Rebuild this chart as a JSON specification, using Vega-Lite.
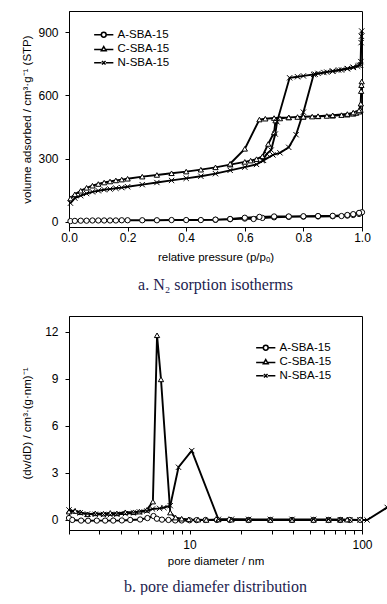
{
  "$schema": "https://vega.github.io/schema/vega-lite/v6.json",
  "background": "white",
  "padding": {"left": 21, "top": 10, "right": 0, "bottom": 0},
  "bounds": "flush",
  "spacing": 89,
  "config": {
    "view": {"stroke": "black", "strokeWidth": 1},
    "axis": {
      "grid": false, "domainColor": "black", "tickColor": "black", "labelColor": "black", "titleColor": "black",
      "labelFont": "Liberation Sans", "titleFont": "Liberation Sans", "labelFontSize": 12, "titleFontSize": 11.5,
      "titleFontWeight": "normal", "tickSize": 4, "tickWidth": 1, "domainWidth": 1, "labelPadding": 3, "labelFlush": false, "labelOverlap": false
    },
    "title": {"font": "Liberation Serif", "fontSize": 16, "fontWeight": "normal", "color": "#1d1d4f", "orient": "bottom", "anchor": "middle"},
    "legend": {"labelFont": "Liberation Sans", "labelFontSize": 11.5, "labelColor": "black"}
  },
  "datasets": {
    "iso": [
      {"s":"A-SBA-15","i":0,"p":0.005,"v":3},{"s":"A-SBA-15","i":1,"p":0.02,"v":4},{"s":"A-SBA-15","i":2,"p":0.04,"v":5},{"s":"A-SBA-15","i":3,"p":0.06,"v":5},{"s":"A-SBA-15","i":4,"p":0.08,"v":6},{"s":"A-SBA-15","i":5,"p":0.10,"v":6},{"s":"A-SBA-15","i":6,"p":0.12,"v":6},{"s":"A-SBA-15","i":7,"p":0.14,"v":6},{"s":"A-SBA-15","i":8,"p":0.16,"v":6},{"s":"A-SBA-15","i":9,"p":0.18,"v":7},{"s":"A-SBA-15","i":10,"p":0.20,"v":7},{"s":"A-SBA-15","i":11,"p":0.25,"v":7},{"s":"A-SBA-15","i":12,"p":0.30,"v":7},{"s":"A-SBA-15","i":13,"p":0.35,"v":8},{"s":"A-SBA-15","i":14,"p":0.40,"v":8},{"s":"A-SBA-15","i":15,"p":0.45,"v":8},{"s":"A-SBA-15","i":16,"p":0.50,"v":9},{"s":"A-SBA-15","i":17,"p":0.55,"v":12},{"s":"A-SBA-15","i":18,"p":0.60,"v":15},{"s":"A-SBA-15","i":19,"p":0.63,"v":13},{"s":"A-SBA-15","i":20,"p":0.66,"v":18},{"s":"A-SBA-15","i":21,"p":0.70,"v":21},{"s":"A-SBA-15","i":22,"p":0.75,"v":23},{"s":"A-SBA-15","i":23,"p":0.80,"v":24},{"s":"A-SBA-15","i":24,"p":0.85,"v":25},{"s":"A-SBA-15","i":25,"p":0.90,"v":26},{"s":"A-SBA-15","i":26,"p":0.93,"v":27},{"s":"A-SBA-15","i":27,"p":0.95,"v":29},{"s":"A-SBA-15","i":28,"p":0.97,"v":32},{"s":"A-SBA-15","i":29,"p":0.99,"v":37},{"s":"A-SBA-15","i":30,"p":1.0,"v":45},
      {"s":"A-SBA-15","i":31,"p":0.99,"v":42},{"s":"A-SBA-15","i":32,"p":0.97,"v":36},{"s":"A-SBA-15","i":33,"p":0.95,"v":32},{"s":"A-SBA-15","i":34,"p":0.90,"v":28},{"s":"A-SBA-15","i":35,"p":0.85,"v":27},{"s":"A-SBA-15","i":36,"p":0.80,"v":26},{"s":"A-SBA-15","i":37,"p":0.75,"v":25},{"s":"A-SBA-15","i":38,"p":0.70,"v":25},{"s":"A-SBA-15","i":39,"p":0.65,"v":23},{"s":"A-SBA-15","i":40,"p":0.60,"v":19},{"s":"A-SBA-15","i":41,"p":0.55,"v":13},{"s":"A-SBA-15","i":42,"p":0.50,"v":10},
      {"s":"C-SBA-15","i":0,"p":0.005,"v":110},{"s":"C-SBA-15","i":1,"p":0.02,"v":130},{"s":"C-SBA-15","i":2,"p":0.04,"v":147},{"s":"C-SBA-15","i":3,"p":0.06,"v":161},{"s":"C-SBA-15","i":4,"p":0.08,"v":171},{"s":"C-SBA-15","i":5,"p":0.10,"v":179},{"s":"C-SBA-15","i":6,"p":0.12,"v":186},{"s":"C-SBA-15","i":7,"p":0.14,"v":191},{"s":"C-SBA-15","i":8,"p":0.16,"v":196},{"s":"C-SBA-15","i":9,"p":0.18,"v":200},{"s":"C-SBA-15","i":10,"p":0.20,"v":204},{"s":"C-SBA-15","i":11,"p":0.25,"v":214},{"s":"C-SBA-15","i":12,"p":0.30,"v":222},{"s":"C-SBA-15","i":13,"p":0.35,"v":230},{"s":"C-SBA-15","i":14,"p":0.40,"v":238},{"s":"C-SBA-15","i":15,"p":0.45,"v":247},{"s":"C-SBA-15","i":16,"p":0.50,"v":258},{"s":"C-SBA-15","i":17,"p":0.55,"v":271},{"s":"C-SBA-15","i":18,"p":0.60,"v":284},{"s":"C-SBA-15","i":19,"p":0.62,"v":290},{"s":"C-SBA-15","i":20,"p":0.64,"v":297},{"s":"C-SBA-15","i":21,"p":0.66,"v":310},{"s":"C-SBA-15","i":22,"p":0.68,"v":369},{"s":"C-SBA-15","i":23,"p":0.70,"v":424},{"s":"C-SBA-15","i":24,"p":0.705,"v":480},{"s":"C-SBA-15","i":25,"p":0.72,"v":490},{"s":"C-SBA-15","i":26,"p":0.75,"v":495},{"s":"C-SBA-15","i":27,"p":0.78,"v":497},{"s":"C-SBA-15","i":28,"p":0.80,"v":498},{"s":"C-SBA-15","i":29,"p":0.83,"v":499},{"s":"C-SBA-15","i":30,"p":0.85,"v":500},{"s":"C-SBA-15","i":31,"p":0.88,"v":502},{"s":"C-SBA-15","i":32,"p":0.90,"v":503},{"s":"C-SBA-15","i":33,"p":0.93,"v":506},{"s":"C-SBA-15","i":34,"p":0.95,"v":508},{"s":"C-SBA-15","i":35,"p":0.97,"v":512},{"s":"C-SBA-15","i":36,"p":0.98,"v":516},{"s":"C-SBA-15","i":37,"p":0.99,"v":522},{"s":"C-SBA-15","i":38,"p":0.995,"v":530},{"s":"C-SBA-15","i":39,"p":0.997,"v":620},{"s":"C-SBA-15","i":40,"p":0.999,"v":665},
      {"s":"C-SBA-15","i":41,"p":0.998,"v":648},{"s":"C-SBA-15","i":42,"p":0.996,"v":560},{"s":"C-SBA-15","i":43,"p":0.99,"v":528},{"s":"C-SBA-15","i":44,"p":0.97,"v":518},{"s":"C-SBA-15","i":45,"p":0.95,"v":511},{"s":"C-SBA-15","i":46,"p":0.90,"v":505},{"s":"C-SBA-15","i":47,"p":0.85,"v":501},{"s":"C-SBA-15","i":48,"p":0.80,"v":498},{"s":"C-SBA-15","i":49,"p":0.75,"v":495},{"s":"C-SBA-15","i":50,"p":0.70,"v":492},{"s":"C-SBA-15","i":51,"p":0.67,"v":489},{"s":"C-SBA-15","i":52,"p":0.65,"v":485},{"s":"C-SBA-15","i":53,"p":0.60,"v":346},{"s":"C-SBA-15","i":54,"p":0.55,"v":275},
      {"s":"N-SBA-15","i":0,"p":0.005,"v":88},{"s":"N-SBA-15","i":1,"p":0.02,"v":112},{"s":"N-SBA-15","i":2,"p":0.04,"v":124},{"s":"N-SBA-15","i":3,"p":0.06,"v":134},{"s":"N-SBA-15","i":4,"p":0.08,"v":142},{"s":"N-SBA-15","i":5,"p":0.10,"v":147},{"s":"N-SBA-15","i":6,"p":0.12,"v":152},{"s":"N-SBA-15","i":7,"p":0.14,"v":155},{"s":"N-SBA-15","i":8,"p":0.16,"v":159},{"s":"N-SBA-15","i":9,"p":0.18,"v":162},{"s":"N-SBA-15","i":10,"p":0.20,"v":166},{"s":"N-SBA-15","i":11,"p":0.25,"v":176},{"s":"N-SBA-15","i":12,"p":0.30,"v":186},{"s":"N-SBA-15","i":13,"p":0.35,"v":196},{"s":"N-SBA-15","i":14,"p":0.40,"v":206},{"s":"N-SBA-15","i":15,"p":0.45,"v":216},{"s":"N-SBA-15","i":16,"p":0.50,"v":228},{"s":"N-SBA-15","i":17,"p":0.55,"v":244},{"s":"N-SBA-15","i":18,"p":0.60,"v":259},{"s":"N-SBA-15","i":19,"p":0.64,"v":272},{"s":"N-SBA-15","i":20,"p":0.664,"v":291},{"s":"N-SBA-15","i":21,"p":0.696,"v":317},{"s":"N-SBA-15","i":22,"p":0.72,"v":327},{"s":"N-SBA-15","i":23,"p":0.75,"v":353},{"s":"N-SBA-15","i":24,"p":0.775,"v":413},{"s":"N-SBA-15","i":25,"p":0.80,"v":520},{"s":"N-SBA-15","i":26,"p":0.835,"v":699},{"s":"N-SBA-15","i":27,"p":0.85,"v":704},{"s":"N-SBA-15","i":28,"p":0.88,"v":710},{"s":"N-SBA-15","i":29,"p":0.90,"v":714},{"s":"N-SBA-15","i":30,"p":0.93,"v":720},{"s":"N-SBA-15","i":31,"p":0.95,"v":726},{"s":"N-SBA-15","i":32,"p":0.97,"v":732},{"s":"N-SBA-15","i":33,"p":0.985,"v":738},{"s":"N-SBA-15","i":34,"p":0.995,"v":745},{"s":"N-SBA-15","i":35,"p":0.997,"v":850},{"s":"N-SBA-15","i":36,"p":0.999,"v":905},
      {"s":"N-SBA-15","i":37,"p":0.998,"v":880},{"s":"N-SBA-15","i":38,"p":0.996,"v":760},{"s":"N-SBA-15","i":39,"p":0.99,"v":742},{"s":"N-SBA-15","i":40,"p":0.97,"v":733},{"s":"N-SBA-15","i":41,"p":0.95,"v":727},{"s":"N-SBA-15","i":42,"p":0.92,"v":720},{"s":"N-SBA-15","i":43,"p":0.90,"v":715},{"s":"N-SBA-15","i":44,"p":0.87,"v":708},{"s":"N-SBA-15","i":45,"p":0.84,"v":700},{"s":"N-SBA-15","i":46,"p":0.80,"v":692},{"s":"N-SBA-15","i":47,"p":0.78,"v":688},{"s":"N-SBA-15","i":48,"p":0.753,"v":683},{"s":"N-SBA-15","i":49,"p":0.71,"v":474},{"s":"N-SBA-15","i":50,"p":0.704,"v":416},{"s":"N-SBA-15","i":51,"p":0.69,"v":340},{"s":"N-SBA-15","i":52,"p":0.675,"v":322},{"s":"N-SBA-15","i":53,"p":0.66,"v":290}
    ],
    "pd": [
      {"s":"A-SBA-15","i":0,"d":2.0,"y":0.12},{"s":"A-SBA-15","i":1,"d":2.09,"y":0.0},{"s":"A-SBA-15","i":2,"d":2.35,"y":-0.04},{"s":"A-SBA-15","i":3,"d":2.58,"y":-0.05},{"s":"A-SBA-15","i":4,"d":2.9,"y":-0.04},{"s":"A-SBA-15","i":5,"d":3.24,"y":-0.04},{"s":"A-SBA-15","i":6,"d":3.61,"y":-0.04},{"s":"A-SBA-15","i":7,"d":4.05,"y":-0.03},{"s":"A-SBA-15","i":8,"d":4.53,"y":0.0},{"s":"A-SBA-15","i":9,"d":5.17,"y":0.03},{"s":"A-SBA-15","i":10,"d":5.7,"y":0.12},{"s":"A-SBA-15","i":11,"d":6.18,"y":0.25},{"s":"A-SBA-15","i":12,"d":6.47,"y":0.08},{"s":"A-SBA-15","i":13,"d":6.92,"y":0.02},{"s":"A-SBA-15","i":14,"d":7.55,"y":0.0},{"s":"A-SBA-15","i":15,"d":8.26,"y":-0.03},{"s":"A-SBA-15","i":16,"d":9.0,"y":-0.03},{"s":"A-SBA-15","i":17,"d":10.0,"y":-0.02},{"s":"A-SBA-15","i":18,"d":11.0,"y":-0.01},{"s":"A-SBA-15","i":19,"d":12.4,"y":0.0},{"s":"A-SBA-15","i":20,"d":14.4,"y":0.0},{"s":"A-SBA-15","i":21,"d":17.1,"y":0.0},{"s":"A-SBA-15","i":22,"d":22,"y":0.0},{"s":"A-SBA-15","i":23,"d":29.4,"y":0.0},{"s":"A-SBA-15","i":24,"d":39.3,"y":0.0},{"s":"A-SBA-15","i":25,"d":52.4,"y":0.0},{"s":"A-SBA-15","i":26,"d":64,"y":0.0},{"s":"A-SBA-15","i":27,"d":74.8,"y":0.0},{"s":"A-SBA-15","i":28,"d":85,"y":0.0},{"s":"A-SBA-15","i":29,"d":97.7,"y":0.0},
      {"s":"C-SBA-15","i":0,"d":2.0,"y":0.53},{"s":"C-SBA-15","i":1,"d":2.17,"y":0.57},{"s":"C-SBA-15","i":2,"d":2.32,"y":0.49},{"s":"C-SBA-15","i":3,"d":2.56,"y":0.36},{"s":"C-SBA-15","i":4,"d":2.84,"y":0.42},{"s":"C-SBA-15","i":5,"d":3.17,"y":0.40},{"s":"C-SBA-15","i":6,"d":3.47,"y":0.45},{"s":"C-SBA-15","i":7,"d":3.79,"y":0.42},{"s":"C-SBA-15","i":8,"d":4.24,"y":0.49},{"s":"C-SBA-15","i":9,"d":4.73,"y":0.49},{"s":"C-SBA-15","i":10,"d":5.12,"y":0.53},{"s":"C-SBA-15","i":11,"d":5.66,"y":0.64},{"s":"C-SBA-15","i":12,"d":6.13,"y":1.17},{"s":"C-SBA-15","i":13,"d":6.48,"y":11.77},{"s":"C-SBA-15","i":14,"d":6.83,"y":8.96},{"s":"C-SBA-15","i":15,"d":7.73,"y":0.47},{"s":"C-SBA-15","i":16,"d":8.3,"y":0.15},{"s":"C-SBA-15","i":17,"d":9.0,"y":0.08},{"s":"C-SBA-15","i":18,"d":9.9,"y":0.04},{"s":"C-SBA-15","i":19,"d":11.2,"y":0.02},{"s":"C-SBA-15","i":20,"d":12.5,"y":0.0},{"s":"C-SBA-15","i":21,"d":14.7,"y":0.03},{"s":"C-SBA-15","i":22,"d":17.5,"y":0.02},{"s":"C-SBA-15","i":23,"d":22,"y":0.01},{"s":"C-SBA-15","i":24,"d":29.4,"y":0.0},{"s":"C-SBA-15","i":25,"d":39.3,"y":0.0},{"s":"C-SBA-15","i":26,"d":52.4,"y":0.0},{"s":"C-SBA-15","i":27,"d":64,"y":0.0},{"s":"C-SBA-15","i":28,"d":74.8,"y":0.01},{"s":"C-SBA-15","i":29,"d":82,"y":0.02},
      {"s":"N-SBA-15","i":0,"d":2.0,"y":0.64},{"s":"N-SBA-15","i":1,"d":2.1,"y":0.57},{"s":"N-SBA-15","i":2,"d":2.32,"y":0.45},{"s":"N-SBA-15","i":3,"d":2.56,"y":0.38},{"s":"N-SBA-15","i":4,"d":2.84,"y":0.36},{"s":"N-SBA-15","i":5,"d":3.17,"y":0.35},{"s":"N-SBA-15","i":6,"d":3.47,"y":0.33},{"s":"N-SBA-15","i":7,"d":3.79,"y":0.36},{"s":"N-SBA-15","i":8,"d":4.24,"y":0.40},{"s":"N-SBA-15","i":9,"d":4.73,"y":0.45},{"s":"N-SBA-15","i":10,"d":5.12,"y":0.51},{"s":"N-SBA-15","i":11,"d":5.66,"y":0.57},{"s":"N-SBA-15","i":12,"d":6.1,"y":0.70},{"s":"N-SBA-15","i":13,"d":6.7,"y":0.74},{"s":"N-SBA-15","i":14,"d":7.1,"y":0.79},{"s":"N-SBA-15","i":15,"d":7.73,"y":0.91},{"s":"N-SBA-15","i":16,"d":8.63,"y":3.36},{"s":"N-SBA-15","i":17,"d":10.3,"y":4.42},{"s":"N-SBA-15","i":18,"d":14.7,"y":0.04},{"s":"N-SBA-15","i":19,"d":17.5,"y":0.05},{"s":"N-SBA-15","i":20,"d":22,"y":0.04},{"s":"N-SBA-15","i":21,"d":29.4,"y":0.04},{"s":"N-SBA-15","i":22,"d":39.3,"y":0.04},{"s":"N-SBA-15","i":23,"d":52.4,"y":0.04},{"s":"N-SBA-15","i":24,"d":64,"y":0.03},{"s":"N-SBA-15","i":25,"d":74.8,"y":0.02},{"s":"N-SBA-15","i":26,"d":85,"y":0.01},{"s":"N-SBA-15","i":27,"d":97,"y":0.0},{"s":"N-SBA-15","i":28,"d":107,"y":0.0},{"s":"N-SBA-15","i":29,"d":140,"y":0.8}
    ]
  },
  "vconcat": [
    {
      "width": 293, "height": 216,
      "data": {"name": "iso"},
      "title": {"text": "a.  N₂ sorption isotherms", "offset": 14},
      "resolve": {"scale": {"shape": "independent"}},
      "layer": [
        {
          "mark": {"type": "line", "color": "black", "strokeWidth": 1.9},
          "encoding": {
            "x": {"field": "p", "type": "quantitative", "scale": {"domain": [0, 1], "nice": false},
              "axis": {"title": "relative pressure (p/pₒ)", "values": [0,0.1,0.2,0.3,0.4,0.5,0.6,0.7,0.8,0.9,1.0], "labelExpr": "round(datum.value*10) % 2 == 0 ? format(datum.value, '.1f') : ''", "labelPadding": 1, "titlePadding": 8}},
            "y": {"field": "v", "type": "quantitative", "scale": {"domain": [-25, 1000], "nice": false, "zero": false},
              "axis": {"title": "volume adsorbed / cm³·g⁻¹ (STP)", "values": [0,150,300,450,600,750,900], "labelExpr": "datum.value % 300 == 0 ? datum.value : ''", "labelPadding": 7, "titlePadding": 5}},
            "detail": {"field": "s"},
            "order": {"field": "i", "type": "quantitative"}
          }
        },
        {
          "mark": {"type": "point", "filled": true, "fill": "white", "stroke": "black", "strokeWidth": 1, "size": 28, "opacity": 1},
          "encoding": {
            "x": {"field": "p", "type": "quantitative"},
            "y": {"field": "v", "type": "quantitative"},
            "shape": {"field": "s", "type": "nominal", "legend": null,
              "scale": {"domain": ["A-SBA-15","C-SBA-15","N-SBA-15"], "range": ["circle", "triangle-up", "M-1,-1L1,1M-1,1L1,-1"]}}
          }
        },
        {
          "transform": [{"filter": "datum.p > 5"}],
          "mark": {"type": "point", "filled": true, "fill": "white", "stroke": "black", "strokeWidth": 1.4, "opacity": 1},
          "encoding": {
            "x": {"field": "p", "type": "quantitative"},
            "y": {"field": "v", "type": "quantitative"},
            "shape": {"field": "s", "type": "nominal",
              "scale": {"domain": ["A-SBA-15","C-SBA-15","N-SBA-15"], "range": [
                "M-2.4,0H-0.6M0.6,0H2.4M-0.6,0A0.6,0.6,0,1,1,0.6,0A0.6,0.6,0,1,1,-0.6,0",
                "M-2.4,0.2H-0.45M0.45,0.2H2.4M0,-0.55L0.6,0.5L-0.6,0.5Z",
                "M-2.4,0H-0.55M0.55,0H2.4M-0.45,-0.45L0.45,0.45M-0.45,0.45L0.45,-0.45"]},
              "legend": {"title": null, "orient": "none", "legendX": 29, "legendY": 18, "symbolSize": 64, "labelOffset": 8, "rowPadding": 1,
                "encode": {"symbols": {"update": {"stroke": {"value": "black"}, "fill": {"value": "white"}, "opacity": {"value": 1}, "strokeWidth": {"value": 1.5}, "size": {"value": 64}}}}}}
          }
        }
      ]
    },
    {
      "width": 293, "height": 214,
      "data": {"name": "pd"},
      "title": {"text": "b.  pore diamefer distribution", "offset": 12},
      "resolve": {"scale": {"shape": "independent"}},
      "layer": [
        {
          "mark": {"type": "line", "color": "black", "strokeWidth": 1.9},
          "encoding": {
            "x": {"field": "d", "type": "quantitative", "scale": {"type": "log", "domain": [2, 100], "nice": false},
              "axis": {"title": "pore diameter / nm", "values": [2,3,4,5,6,7,8,9,10,20,30,40,50,60,70,80,90,100], "labelExpr": "datum.value == 10 || datum.value == 100 ? datum.value : ''", "labelPadding": 5, "titlePadding": 5}},
            "y": {"field": "y", "type": "quantitative", "scale": {"domain": [-0.64, 13], "nice": false, "zero": false},
              "axis": {"title": "(dv/dD) / cm³·(g·nm)⁻¹", "values": [0,1.5,3,4.5,6,7.5,9,10.5,12], "labelExpr": "datum.value % 3 == 0 ? datum.value : ''", "labelPadding": 7, "titlePadding": 12}},
            "detail": {"field": "s"},
            "order": {"field": "i", "type": "quantitative"}
          }
        },
        {
          "mark": {"type": "point", "filled": true, "fill": "white", "stroke": "black", "strokeWidth": 1, "size": 28, "opacity": 1},
          "encoding": {
            "x": {"field": "d", "type": "quantitative"},
            "y": {"field": "y", "type": "quantitative"},
            "shape": {"field": "s", "type": "nominal", "legend": null,
              "scale": {"domain": ["A-SBA-15","C-SBA-15","N-SBA-15"], "range": ["circle", "triangle-up", "M-1,-1L1,1M-1,1L1,-1"]}}
          }
        },
        {
          "transform": [{"filter": "datum.d > 1000"}],
          "mark": {"type": "point", "filled": true, "fill": "white", "stroke": "black", "strokeWidth": 1.4, "opacity": 1},
          "encoding": {
            "x": {"field": "d", "type": "quantitative"},
            "y": {"field": "y", "type": "quantitative"},
            "shape": {"field": "s", "type": "nominal",
              "scale": {"domain": ["A-SBA-15","C-SBA-15","N-SBA-15"], "range": [
                "M-2.4,0H-0.6M0.6,0H2.4M-0.6,0A0.6,0.6,0,1,1,0.6,0A0.6,0.6,0,1,1,-0.6,0",
                "M-2.4,0.2H-0.45M0.45,0.2H2.4M0,-0.55L0.6,0.5L-0.6,0.5Z",
                "M-2.4,0H-0.55M0.55,0H2.4M-0.45,-0.45L0.45,0.45M-0.45,0.45L0.45,-0.45"]},
              "legend": {"title": null, "orient": "none", "legendX": 191, "legendY": 26, "symbolSize": 64, "labelOffset": 8, "rowPadding": 1,
                "encode": {"symbols": {"update": {"stroke": {"value": "black"}, "fill": {"value": "white"}, "opacity": {"value": 1}, "strokeWidth": {"value": 1.5}, "size": {"value": 64}}}}}}
          }
        }
      ]
    }
  ]
}
